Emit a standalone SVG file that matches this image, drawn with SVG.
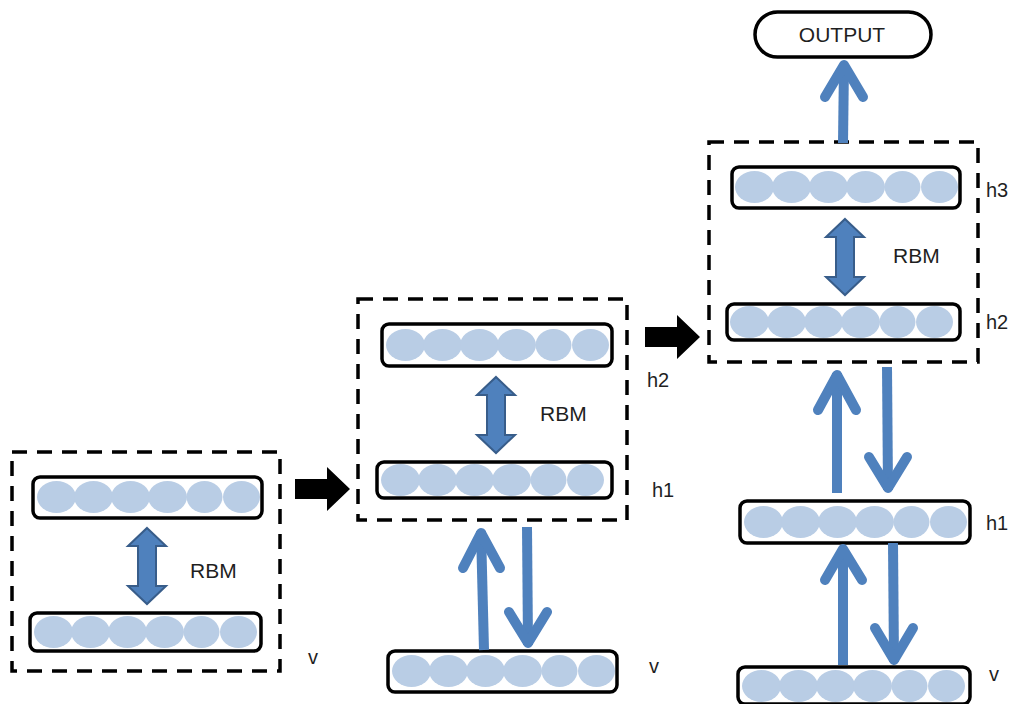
<svg xmlns="http://www.w3.org/2000/svg" xmlns:xlink="http://www.w3.org/1999/xlink" width="1011" height="704" viewBox="0 0 1011 704">
  <style>
    .frame { fill: none; stroke: #000; stroke-width: 3.5; stroke-dasharray: 15 10; }
    .bar { fill: #fff; stroke: #000; stroke-width: 3.5; }
    .unit { fill: #b9cde5; }
    .rbm { fill: #4f81bd; stroke: #385d8a; stroke-width: 2; }
    .step { fill: #000; }
    .flow { fill: none; stroke: #4f81bd; stroke-width: 10; stroke-linecap: round; stroke-linejoin: round; }
    .shaft { fill: none; stroke: #4f81bd; stroke-width: 10; stroke-linecap: butt; }
    .lbl { font-family: "Liberation Sans", Arial, sans-serif; font-size: 20px; fill: #1f1f1f; }
    .big { font-size: 21px; }
    .out { fill: #fff; stroke: #000; stroke-width: 3.5; }
  </style>
  <defs>
    <!-- six hidden units in a row, centred vertically on y=0 -->
    <g id="units">
      <ellipse class="unit" cx="18.5" cy="0" rx="19.5" ry="16"/>
      <ellipse class="unit" cx="55.5" cy="0" rx="19.5" ry="16"/>
      <ellipse class="unit" cx="92.5" cy="0" rx="19.5" ry="16"/>
      <ellipse class="unit" cx="129.5" cy="0" rx="19.5" ry="16"/>
      <ellipse class="unit" cx="166.5" cy="0" rx="18" ry="16"/>
      <ellipse class="unit" cx="203.5" cy="0" rx="18.5" ry="16"/>
    </g>
    <!-- vertical double-headed block arrow, top at y=0 -->
    <path id="dbl" class="rbm" d="M0,0 L19,18 L9,18 L9,58 L19,58 L0,76 L-19,58 L-9,58 L-9,18 L-19,18 Z"/>
    <!-- black block arrow pointing right, centre line at y=0 -->
    <path id="blk" class="step" d="M0,-10 L32,-10 L32,-22 L55,0 L32,22 L32,10 L0,10 Z"/>
  </defs>

  <!-- stage 1: first RBM -->
  <g id="stage1">
    <rect class="frame" x="12" y="452" width="268" height="219"/>
    <g id="s1-top">
      <rect class="bar" x="33" y="477" width="229" height="41" rx="7"/>
      <use xlink:href="#units" transform="translate(38,497)"/>
    </g>
    <g id="s1-bottom">
      <rect class="bar" x="30" y="613" width="231" height="38" rx="7"/>
      <use xlink:href="#units" transform="translate(35,632)"/>
    </g>
    <use xlink:href="#dbl" transform="translate(147,528)"/>
    <text class="lbl big" x="190" y="578">RBM</text>
    <text class="lbl" x="308" y="664">v</text>
  </g>

  <!-- stage 2: second RBM stacked on v -->
  <g id="stage2">
    <rect class="frame" x="358" y="299" width="269" height="221"/>
    <g id="s2-h2">
      <rect class="bar" x="382" y="324" width="230" height="42" rx="7"/>
      <use xlink:href="#units" transform="translate(387,345)"/>
    </g>
    <g id="s2-h1">
      <rect class="bar" x="377" y="462" width="235" height="36" rx="7"/>
      <use xlink:href="#units" transform="translate(382,480)"/>
    </g>
    <use xlink:href="#dbl" transform="translate(496,377)"/>
    <text class="lbl big" x="540" y="421">RBM</text>
    <text class="lbl" x="647" y="387">h2</text>
    <text class="lbl" x="652" y="497">h1</text>
    <g id="s2-v">
      <rect class="bar" x="388" y="651" width="229" height="41" rx="7"/>
      <use xlink:href="#units" transform="translate(393,671)"/>
    </g>
    <text class="lbl" x="649" y="673">v</text>
  </g>

  <!-- stage 3: third RBM with output -->
  <g id="stage3">
    <g id="output">
      <rect class="out" x="755" y="12" width="176" height="45" rx="22.5"/>
      <text class="lbl big" x="842" y="42" text-anchor="middle">OUTPUT</text>
    </g>
    <rect class="frame" x="709" y="142" width="269" height="220"/>
    <g id="s3-h3">
      <rect class="bar" x="732" y="167" width="228" height="41" rx="7"/>
      <use xlink:href="#units" transform="translate(736,187)"/>
    </g>
    <g id="s3-h2">
      <rect class="bar" x="727" y="304" width="233" height="36" rx="7"/>
      <use xlink:href="#units" transform="translate(731,322)"/>
    </g>
    <use xlink:href="#dbl" transform="translate(845,219)"/>
    <text class="lbl big" x="893" y="263">RBM</text>
    <text class="lbl" x="986" y="197">h3</text>
    <text class="lbl" x="986" y="329">h2</text>
    <g id="s3-h1">
      <rect class="bar" x="740" y="501" width="230" height="42" rx="7"/>
      <use xlink:href="#units" transform="translate(745,522)"/>
    </g>
    <text class="lbl" x="986" y="530">h1</text>
    <g id="s3-v">
      <rect class="bar" x="738" y="667" width="232" height="37" rx="7"/>
      <use xlink:href="#units" transform="translate(743,686)"/>
    </g>
    <text class="lbl" x="989" y="681">v</text>
  </g>

  <!-- connectors -->
  <g id="connectors">
    <use xlink:href="#blk" transform="translate(295,489)"/>
    <use xlink:href="#blk" transform="translate(645,337)"/>

    <!-- stage 2: v up to h1, h1 down to v -->
    <path class="shaft" d="M484,650 L481,531"/>
    <path class="flow" d="M463,568 L481,533 L500,568"/>
    <path class="shaft" d="M527,527 L528,645"/>
    <path class="flow" d="M509,612 L528,643 L547,612"/>

    <!-- stage 3: h2 box to output -->
    <path class="shaft" d="M843,143 L844,64"/>
    <path class="flow" d="M825,97 L844,65 L863,97"/>

    <!-- stage 3: h1 up/down to h2 box -->
    <path class="shaft" d="M837,493 L837,373"/>
    <path class="flow" d="M818,410 L837,375 L856,410"/>
    <path class="shaft" d="M887,367 L888,490"/>
    <path class="flow" d="M869,457 L888,488 L907,457"/>

    <!-- stage 3: v up/down to h1 -->
    <path class="shaft" d="M843,665 L843,548"/>
    <path class="flow" d="M825,580 L843,549 L862,580"/>
    <path class="shaft" d="M893,543 L894,662"/>
    <path class="flow" d="M875,628 L894,660 L913,628"/>
  </g>
</svg>
